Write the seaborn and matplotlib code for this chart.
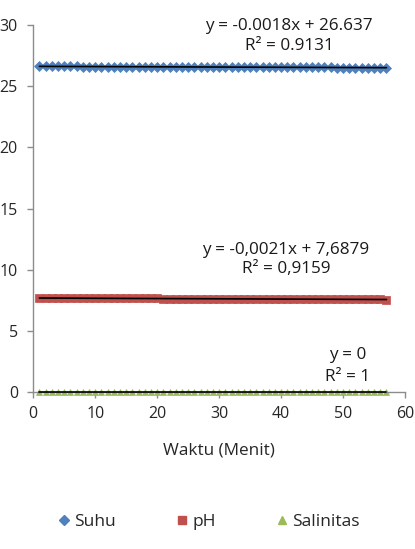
import matplotlib
matplotlib.use("Agg")
import matplotlib.pyplot as plt
import seaborn as sns
from matplotlib.lines import Line2D

# time (minutes)
waktu = list(range(1, 58))

suhu = [26.64, 26.63, 26.63, 26.63, 26.63, 26.63, 26.63, 26.62, 26.62, 26.62,
        26.62, 26.62, 26.61, 26.61, 26.61, 26.61, 26.61, 26.60, 26.60, 26.60,
        26.60, 26.60, 26.59, 26.60, 26.59, 26.59, 26.59, 26.59, 26.58, 26.58,
        26.58, 26.58, 26.58, 26.57, 26.57, 26.57, 26.57, 26.57, 26.56, 26.56,
        26.56, 26.56, 26.56, 26.55, 26.55, 26.55, 26.55, 26.55, 26.54, 26.54,
        26.54, 26.54, 26.54, 26.53, 26.53, 26.53, 26.53]

ph = [7.69, 7.68, 7.68, 7.68, 7.68, 7.68, 7.67, 7.67, 7.67, 7.67,
      7.66, 7.66, 7.66, 7.66, 7.66, 7.65, 7.65, 7.65, 7.65, 7.65,
      7.64, 7.64, 7.64, 7.64, 7.63, 7.63, 7.63, 7.63, 7.63, 7.62,
      7.62, 7.62, 7.62, 7.61, 7.61, 7.61, 7.61, 7.61, 7.60, 7.60,
      7.60, 7.60, 7.59, 7.59, 7.59, 7.59, 7.59, 7.58, 7.58, 7.58,
      7.58, 7.57, 7.57, 7.57, 7.57, 7.57, 7.56]

salinitas = [0, 0, 0, 0, 0, 0, 0, 0, 0, 0,
             0, 0, 0, 0, 0, 0, 0, 0, 0, 0,
             0, 0, 0, 0, 0, 0, 0, 0, 0, 0,
             0, 0, 0, 0, 0, 0, 0, 0, 0, 0,
             0, 0, 0, 0, 0, 0, 0, 0, 0, 0,
             0, 0, 0, 0, 0, 0, 0]

series_names = ["Suhu", "pH", "Salinitas"]
trend_labels = [("y = -0.0018x + 26.637", "R² = 0.9131"),
                ("y = -0,0021x + 7,6879", "R² = 0,9159"),
                ("y = 0", "R² = 1")]

colors = ["#4F81BD", "#C0504D", "#9BBB59"]
markers = ["D", "s", "^"]
sizes = [4.8, 6, 5]

sns.set_style("white")
plt.rcParams['font.family'] = ['Open Sans', 'DejaVu Sans']

fig = plt.figure(figsize=(4.15, 5.49), dpi=100)
ax = fig.add_axes([0.08, 0.286, 0.896, 0.668])

for vals, c, m, s in zip([suhu, ph, salinitas], colors, markers, sizes):
    ax.plot(waktu, vals, linestyle="none", marker=m, markersize=s,
            color=c, markeredgecolor=c, markeredgewidth=0.5, zorder=2, clip_on=False)
    sns.regplot(x=waktu, y=vals, scatter=False, ci=None, ax=ax, truncate=True,
                line_kws={"color": "black", "linewidth": 1.2, "zorder": 3, "clip_on": False})

# trendline equations
pos = [(41.3, 29.95, 28.3), (40.8, 11.6, 10.1), (50.7, 3.0, 1.25)]
for (eq, r2), (x, y1, y2) in zip(trend_labels, pos):
    ax.text(x, y1, eq, ha="center", va="center", fontsize=12.3, color="#1a1a1a")
    ax.text(x, y2, r2, ha="center", va="center", fontsize=12.3, color="#1a1a1a")

ax.set_xlim(0, 60)
ax.set_ylim(0, 30)
ax.set_xticks(range(0, 61, 10))
ax.set_yticks(range(0, 31, 5))
ax.set_xlabel("Waktu (Menit)", fontsize=12.3, labelpad=15)
sns.despine(ax=ax)
for sp in ["left", "bottom"]:
    ax.spines[sp].set_color("#8c8c8c")
    ax.spines[sp].set_linewidth(1)
ax.tick_params(axis="both", direction="out", length=4, color="#8c8c8c",
               labelsize=11.5, width=1, left=True, bottom=True)
ax.tick_params(axis="y", pad=7)
ax.tick_params(axis="x", pad=6)

handles = [Line2D([], [], linestyle="none", marker=m, color=c, markersize=s)
           for m, c, s in zip(markers, colors, [5, 6, 6])]
fig.legend(handles, series_names, loc="center", bbox_to_anchor=(0.5, 0.049),
           ncol=3, frameon=False, fontsize=12.5, handletextpad=0.1,
           columnspacing=3.3, handlelength=1)

fig.savefig("out.png", dpi=100)
